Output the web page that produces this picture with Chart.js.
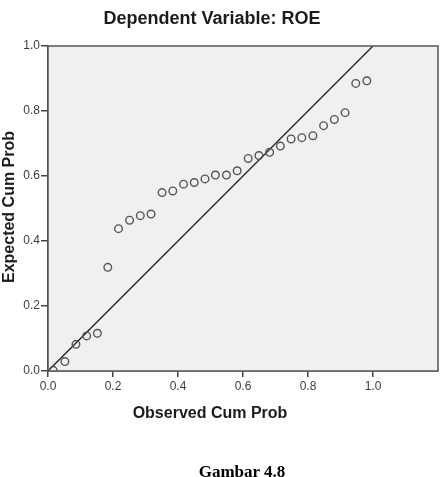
<!DOCTYPE html>
<html>
<head>
<meta charset="utf-8">
<script src="https://cdn.jsdelivr.net/npm/chart.js@4"></script>
<style>
  html, body { margin: 0; padding: 0; background: #ffffff; }
  #wrap { position: relative; width: 445px; height: 477px; overflow: hidden; }
  #c { position: absolute; left: 0; top: 0; }
  .lbl { position: absolute; white-space: nowrap; line-height: 1; color: #1b1b1b;
         font-family: "Liberation Sans", Arial, sans-serif; font-weight: bold; }
</style>
</head>
<body>
<div id="wrap">
  <canvas id="c" width="445" height="477"></canvas>
  <div class="lbl" id="title" style="left:212px; top:18px; font-size:18px; transform:translate(-50%,-50%);">Dependent Variable: ROE</div>
  <div class="lbl" id="ytitle" style="left:9px; top:207px; font-size:16px; transform:translate(-50%,-50%) rotate(-90deg);">Expected Cum Prob</div>
  <div class="lbl" id="xtitle" style="left:210px; top:413px; font-size:16px; transform:translate(-50%,-50%);">Observed Cum Prob</div>
  <div class="lbl" id="caption" style="left:242px; top:471px; font-size:17px; font-family:'Liberation Serif','Times New Roman',serif; color:#000; transform:translate(-50%,-50%);">Gambar 4.8</div>
</div>
<script>
// Observed cumulative probability (x) and expected cumulative probability (y)
const observedCumProb = [0.016, 0.052, 0.086, 0.119, 0.152, 0.184, 0.217, 0.251, 0.284, 0.317,
                         0.351, 0.384, 0.417, 0.450, 0.483, 0.515, 0.549, 0.582, 0.616, 0.649,
                         0.682, 0.715, 0.748, 0.781, 0.815, 0.848, 0.881, 0.914, 0.947, 0.981];
const expectedCumProb = [0.002, 0.029, 0.082, 0.108, 0.116, 0.319, 0.438, 0.464, 0.478, 0.483,
                         0.549, 0.554, 0.575, 0.580, 0.591, 0.603, 0.603, 0.616, 0.654, 0.663,
                         0.673, 0.692, 0.714, 0.718, 0.724, 0.755, 0.774, 0.795, 0.885, 0.893];
// Reference diagonal line endpoints
const refLineX = [0, 1];
const refLineY = [0, 1];
// Tick values
const xTickValues = [0.0, 0.2, 0.4, 0.6, 0.8, 1.0];
const yTickValues = [0.0, 0.2, 0.4, 0.6, 0.8, 1.0];

const points = observedCumProb.map((x, i) => ({ x: x, y: expectedCumProb[i] }));
const refLine = refLineX.map((x, i) => ({ x: x, y: refLineY[i] }));

const plotFrame = {
  id: 'plotFrame',
  beforeDatasetsDraw(chart) {
    const { ctx, chartArea: a } = chart;
    ctx.save();
    ctx.fillStyle = '#f0f0f0';
    ctx.fillRect(a.left, a.top, a.right - a.left, a.bottom - a.top);
    ctx.restore();
  },
  afterDraw(chart) {
    const { ctx, chartArea: a } = chart;
    ctx.save();
    ctx.strokeStyle = '#555555';
    ctx.lineWidth = 1.5;
    ctx.strokeRect(a.left, a.top, a.right - a.left, a.bottom - a.top);
    ctx.restore();
  }
};

const tickFont = { family: '"Liberation Sans", Arial, sans-serif', size: 12 };

new Chart(document.getElementById('c'), {
  type: 'scatter',
  data: {
    datasets: [
      {
        label: 'Reference',
        type: 'line',
        data: refLine,
        borderColor: '#1e1e1e',
        borderWidth: 1.3,
        pointRadius: 0,
        fill: false,
        order: 2
      },
      {
        label: 'ROE',
        data: points,
        pointStyle: 'circle',
        pointRadius: 3.8,
        pointBorderWidth: 1.4,
        pointBackgroundColor: 'rgba(0,0,0,0)',
        pointBorderColor: '#555555',
        order: 1
      }
    ]
  },
  options: {
    responsive: false,
    animation: false,
    devicePixelRatio: 1,
    layout: { padding: { top: 46, left: 0, right: 7, bottom: 86 } },
    plugins: {
      legend: { display: false },
      tooltip: { enabled: false },
      title: { display: false }
    },
    scales: {
      x: {
        type: 'linear',
        min: 0,
        max: 1.2,
        afterFit(scale) { scale.height = 20; },
        afterBuildTicks(scale) { scale.ticks = xTickValues.map(v => ({ value: v })); },
        ticks: {
          color: '#3c3c3c',
          font: tickFont,
          padding: 2,
          maxRotation: 0,
          callback: (v) => Number(v).toFixed(1)
        },
        grid: { display: true, drawOnChartArea: false, drawTicks: true, tickLength: 6, color: '#444444', lineWidth: 1.5 },
        border: { display: true, color: '#444444', width: 1.5 }
      },
      y: {
        type: 'linear',
        min: 0,
        max: 1,
        afterFit(scale) { scale.width = 48; },
        afterBuildTicks(scale) { scale.ticks = yTickValues.map(v => ({ value: v })); },
        ticks: {
          color: '#3c3c3c',
          font: tickFont,
          padding: 1,
          callback: (v) => Number(v).toFixed(1)
        },
        grid: { display: true, drawOnChartArea: false, drawTicks: true, tickLength: 7, color: '#444444', lineWidth: 1.5 },
        border: { display: true, color: '#444444', width: 1.5 }
      }
    }
  },
  plugins: [plotFrame]
});
</script>
</body>
</html>
